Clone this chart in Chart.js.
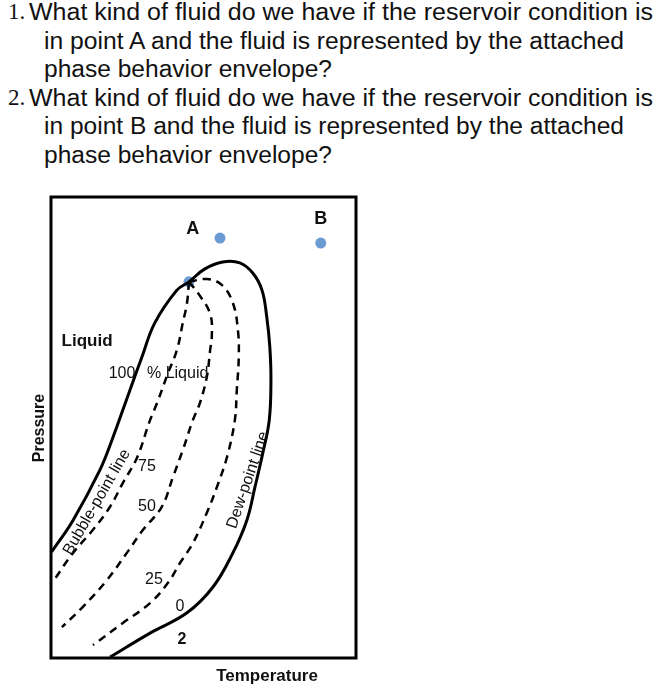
<!DOCTYPE html>
<html>
<head>
<meta charset="utf-8">
<title>Phase behavior envelope</title>
<script src="https://cdn.jsdelivr.net/npm/chart.js@4.4.1/dist/chart.umd.min.js"></script>
<style>
  html, body { margin: 0; padding: 0; background: #fff; }
  #page { position: relative; width: 661px; height: 700px; overflow: hidden; }
  #question {
    position: absolute; left: 0; top: -2px; width: 661px;
    font-family: "Liberation Sans Narrow", "Arial Narrow", "Liberation Sans", Arial, sans-serif;
    font-size: 23px; line-height: 28.6px; color: #111;
  }
  .row { position: relative; height: 28.6px; white-space: nowrap; }
  .num { position: absolute; left: 8px; font-family: "Liberation Serif", "Times New Roman", serif; }
  .txt { position: absolute; display: inline-block; transform-origin: 0 0; }
  #phaseChart { position: absolute; left: 0; top: 0; }
</style>
</head>
<body>
<div id="page">
  <div id="question">
    <div class="row"><span class="num">1.</span><span class="txt" data-left="29" data-width="624">What kind of fluid do we have if the reservoir condition is</span></div>
    <div class="row"><span class="txt" data-left="44" data-width="580">in point A and the fluid is represented by the attached</span></div>
    <div class="row"><span class="txt" data-left="44" data-width="288">phase behavior envelope?</span></div>
    <div class="row"><span class="num">2.</span><span class="txt" data-left="29" data-width="624">What kind of fluid do we have if the reservoir condition is</span></div>
    <div class="row"><span class="txt" data-left="44" data-width="580">in point B and the fluid is represented by the attached</span></div>
    <div class="row"><span class="txt" data-left="44" data-width="288">phase behavior envelope?</span></div>
  </div>
  <canvas id="phaseChart" width="661" height="700"></canvas>
</div>
<script>
// phase envelope: bubble-point line up to the critical point, then dew-point line down
const envelopeT = [0.2, 7.9, 17.5, 21.8, 28.2, 32.5, 37.1, 45.0, 49.3, 55.0, 61.4, 67.5, 72.1, 75.4, 77.1, 78.2, 78.6, 78.0, 75.7, 72.9, 70.0, 65.0, 57.9, 48.6, 35.4, 21.1];
const envelopeP = [23.0, 29.9, 40.8, 47.3, 58.1, 65.3, 72.7, 79.8, 81.6, 84.4, 85.9, 85.7, 83.5, 79.8, 74.0, 67.5, 60.3, 51.6, 44.5, 37.1, 29.9, 22.8, 15.4, 9.8, 5.4, 0.2];

// quality lines (% liquid), all starting at the critical point
const q75T = [49.3, 48.6, 47.1, 45.0, 41.8, 37.9, 35.4, 30.7, 25.7, 21.1, 15.0, 7.9, 0.4];
const q75P = [81.6, 77.0, 72.7, 66.8, 61.8, 55.3, 51.6, 43.4, 38.0, 32.8, 27.8, 22.8, 16.3];
const q50T = [49.3, 52.5, 56.8, 57.5, 56.8, 55.7, 53.2, 50.7, 47.1, 43.6, 39.6, 32.9, 27.1, 20.0, 11.4, 3.9];
const q50P = [81.6, 79.2, 74.8, 70.5, 66.4, 61.0, 55.3, 51.6, 45.1, 39.3, 32.8, 27.8, 22.8, 16.9, 11.1, 6.7];
const q25T = [49.3, 55.7, 61.1, 65.0, 66.8, 67.1, 66.4, 65.7, 62.9, 59.3, 55.7, 50.7, 46.1, 41.8, 35.4, 25.7, 15.0];
const q25P = [81.6, 82.2, 80.9, 77.0, 71.1, 65.3, 58.1, 51.6, 43.6, 37.1, 31.5, 24.9, 20.6, 16.3, 11.9, 7.6, 2.8];

// reservoir conditions and the critical point
const pointNames = ["A", "B"];
const pointT = [60.4, 96.4];
const pointP = [91.1, 90.0];
const criticalT = [49.3];
const criticalP = [81.6];

const qualityLabels = ["100", "75", "50", "25", "0"];

// stretch the question lines to the widths of the original slide
document.querySelectorAll("#question .txt").forEach(el => {
  el.style.left = el.dataset.left + "px";
  const w = el.getBoundingClientRect().width;
  el.style.transform = `scaleX(${(+el.dataset.width / w).toFixed(4)})`;
});

const zip = (xs, ys) => xs.map((x, i) => ({ x, y: ys[i] }));
const dashed = [8, 6];
const dotColor = "#6a9bd3";
const sans = '"Liberation Sans", Arial, Helvetica, sans-serif';

const frameAndLabels = {
  id: "frameAndLabels",
  afterDatasetsDraw(chart) {
    const { ctx, chartArea: a, scales: { x, y } } = chart;
    const px = v => x.getPixelForValue(v);
    const py = v => y.getPixelForValue(v);

    ctx.save();
    ctx.strokeStyle = "#000";
    ctx.lineWidth = 3;
    ctx.strokeRect(a.left, a.top, a.right - a.left, a.bottom - a.top);

    const text = (s, tx, ty, font, align = "center", angle = 0) => {
      ctx.save();
      ctx.translate(tx, ty);
      ctx.rotate(angle * Math.PI / 180);
      ctx.font = font;
      ctx.fillStyle = "#111";
      ctx.textAlign = align;
      ctx.textBaseline = "middle";
      ctx.fillText(s, 0, 0);
      ctx.restore();
    };

    text(pointNames[0], px(50.7), py(93.1), `bold 18px ${sans}`);
    text(pointNames[1], px(96.4), py(95.2), `bold 18px ${sans}`);
    text("Liquid", px(12.9), py(68.8), `bold 17px ${sans}`);
    text(qualityLabels[0], px(25.4), py(61.6), `16px ${sans}`);
    text("% Liquid", px(34.3), py(61.6), `16px ${sans}`, "left");
    text(qualityLabels[1], px(34.3), py(41.6), `16px ${sans}`);
    text(qualityLabels[2], px(34.3), py(32.8), `16px ${sans}`);
    text(qualityLabels[3], px(36.8), py(16.9), `16px ${sans}`);
    text(qualityLabels[4], px(46.1), py(11.1), `16px ${sans}`);
    text("2", px(46.8), py(3.9), `bold 16px ${sans}`);
    text("Bubble-point line", px(16.4), py(33.8), `16px ${sans}`, "center", -60);
    text("Dew-point line", px(70.4), py(38.6), `16px ${sans}`, "center", -71);

    text("Temperature", 267, a.bottom + 18, `bold 17px ${sans}`);
    text("Pressure", a.left - 11, 428, `bold 16px ${sans}`, "center", -90);
    ctx.restore();
  }
};

new Chart(document.getElementById("phaseChart"), {
  type: "scatter",
  data: {
    datasets: [
      { label: "Envelope", data: zip(envelopeT, envelopeP), showLine: true, borderColor: "#000", borderWidth: 3, tension: 0.4, pointRadius: 0 },
      { label: "75", data: zip(q75T, q75P), showLine: true, borderColor: "#000", borderWidth: 2.5, borderDash: dashed, tension: 0.4, pointRadius: 0 },
      { label: "50", data: zip(q50T, q50P), showLine: true, borderColor: "#000", borderWidth: 2.5, borderDash: dashed, tension: 0.4, pointRadius: 0 },
      { label: "25", data: zip(q25T, q25P), showLine: true, borderColor: "#000", borderWidth: 2.5, borderDash: dashed, tension: 0.4, pointRadius: 0 },
      { label: "Critical point", data: zip(criticalT, criticalP), backgroundColor: dotColor, borderWidth: 0, pointRadius: 5.5 },
      { label: "Reservoir", data: zip(pointT, pointP), backgroundColor: dotColor, borderWidth: 0, pointRadius: 5.5 }
    ]
  },
  options: {
    responsive: false,
    animation: false,
    layout: { padding: { left: 51, top: 197, right: 305, bottom: 42 } },
    plugins: { legend: { display: false }, tooltip: { enabled: false } },
    scales: {
      x: { type: "linear", min: 0, max: 109, display: false },
      y: { type: "linear", min: 0, max: 100, display: false }
    }
  },
  plugins: [frameAndLabels]
});
</script>
</body>
</html>
